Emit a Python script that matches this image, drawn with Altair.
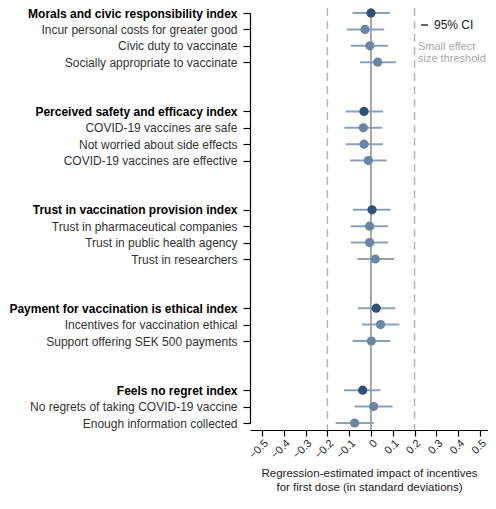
import altair as alt
import pandas as pd

labels = [
    "Morals and civic responsibility index",
    "Incur personal costs for greater good",
    "Civic duty to vaccinate",
    "Socially appropriate to vaccinate",
    "Perceived safety and efficacy index",
    "COVID-19 vaccines are safe",
    "Not worried about side effects",
    "COVID-19 vaccines are effective",
    "Trust in vaccination provision index",
    "Trust in pharmaceutical companies",
    "Trust in public health agency",
    "Trust in researchers",
    "Payment for vaccination is ethical index",
    "Incentives for vaccination ethical",
    "Support offering SEK 500 payments",
    "Feels no regret index",
    "No regrets of taking COVID-19 vaccine",
    "Enough information collected",
]
estimates = [0.000, -0.027, -0.005, 0.031,
             -0.032, -0.035, -0.032, -0.012,
             0.005, -0.006, -0.006, 0.020,
             0.024, 0.044, 0.002,
             -0.038, 0.012, -0.075]
ci_low = [-0.084, -0.111, -0.092, -0.050,
          -0.116, -0.122, -0.116, -0.096,
          -0.083, -0.093, -0.092, -0.063,
          -0.061, -0.041, -0.084,
          -0.124, -0.075, -0.162]
ci_high = [0.087, 0.061, 0.079, 0.115,
           0.056, 0.052, 0.055, 0.072,
           0.090, 0.079, 0.079, 0.106,
           0.112, 0.131, 0.089,
           0.044, 0.099, 0.012]
kinds = ["index", "item", "item", "item",
         "index", "item", "item", "item",
         "index", "item", "item", "item",
         "index", "item", "item",
         "index", "item", "item"]
row_order = (labels[0:4] + ["gap1", "gap2"] + labels[4:8] + ["gap3", "gap4"]
             + labels[8:12] + ["gap5", "gap6"] + labels[12:15] + ["gap7", "gap8"]
             + labels[15:18])
index_labels = [l for l, k in zip(labels, kinds) if k == "index"]
x_tick_values = [-0.5, -0.4, -0.3, -0.2, -0.1, 0.0, 0.1, 0.2, 0.3, 0.4, 0.5]
thresholds = [-0.2, 0.2]
x_title = ["Regression-estimated impact of incentives", "for first dose (in standard deviations)"]

df = pd.DataFrame({"label": labels, "est": estimates, "lo": ci_low, "hi": ci_high, "kind": kinds})
thr_df = pd.DataFrame({"t": thresholds})
zero_df = pd.DataFrame({"t": [0.0]})
one = pd.DataFrame({"a": [0]})

FONT = "Liberation Sans"
DARK = "#2c5279"
LIGHT = "#6887a5"
CI_COLOR = "#8aa3bc"

x_scale = alt.Scale(domain=[-0.555, 0.537], nice=False, zero=False)
x_axis = alt.Axis(
    values=x_tick_values, labelAngle=-45, title=x_title, labelOverlap=False,
    labelExpr="datum.value == 0 ? '0' : format(datum.value, '.1f')",
    tickSize=6, labelFontSize=11, titleFontSize=11.5, titleFontWeight="normal",
    titlePadding=7, titleLineHeight=14, titleColor="#222", labelColor="#222",
    labelPadding=1,
)
index_test = "indexof(" + str(index_labels) + ", datum.value) >= 0"
y_scale = alt.Scale(type="point", domain=row_order, range=[5, 415], padding=0)
y_axis = alt.Axis(
    values=labels, title=None, labelFontSize=12, labelLimit=400, labelPadding=6,
    tickSize=7,
    labelFontWeight={"condition": {"test": index_test, "value": "bold"}, "value": "normal"},
    labelColor={"condition": {"test": index_test, "value": "#000"}, "value": "#333"},
)

thr = alt.Chart(thr_df).mark_rule(color="#b5b5b5", strokeWidth=1.5, strokeDash=[8, 5]).encode(
    x=alt.X("t:Q", scale=x_scale, axis=x_axis)
)
zero = alt.Chart(zero_df).mark_rule(color="#8c8c8c", strokeWidth=1.5).encode(
    x=alt.X("t:Q", scale=x_scale, axis=x_axis)
)
ci = alt.Chart(df).mark_rule(strokeWidth=2, color=CI_COLOR).encode(
    x=alt.X("lo:Q", scale=x_scale, axis=x_axis),
    x2="hi:Q",
    y=alt.Y("label:N", scale=y_scale, axis=y_axis, sort=row_order),
)
pts = alt.Chart(df).mark_circle(size=85, opacity=1).encode(
    x=alt.X("est:Q", scale=x_scale, axis=x_axis),
    y=alt.Y("label:N", scale=y_scale, axis=y_axis, sort=row_order),
    color=alt.Color("kind:N", scale=alt.Scale(domain=["index", "item"], range=[DARK, LIGHT]), legend=None),
)

leg_line = alt.Chart(one).mark_rule(color="#333", strokeWidth=1.5).encode(
    x=alt.value(171), x2=alt.value(178), y=alt.value(17)
)
leg_ci = alt.Chart(one).mark_text(text="95% CI", align="left", baseline="middle",
                                   fontSize=12, font=FONT, color="#222").encode(
    x=alt.value(184), y=alt.value(17)
)
leg_thr1 = alt.Chart(one).mark_text(text="Small effect", align="left", baseline="middle",
                                    fontSize=11, font=FONT, color="#a8a8a8").encode(
    x=alt.value(168), y=alt.value(39)
)
leg_thr2 = alt.Chart(one).mark_text(text="size threshold", align="left", baseline="middle",
                                    fontSize=11, font=FONT, color="#a8a8a8").encode(
    x=alt.value(168), y=alt.value(51)
)

chart = alt.layer(thr, zero, ci, pts, leg_line, leg_ci, leg_thr1, leg_thr2).properties(
    width=238, height=422,
    autosize=alt.AutoSizeParams(type="none"),
    padding={"left": 242, "top": 0, "right": 0, "bottom": 66},
).configure_view(stroke=None).configure_axis(
    domainColor="#000", tickColor="#000", grid=False,
    labelFont=FONT, titleFont=FONT, domainWidth=1.2, tickWidth=1.2,
)

chart.save("out.html", embed_options={"renderer": "svg", "actions": False})
